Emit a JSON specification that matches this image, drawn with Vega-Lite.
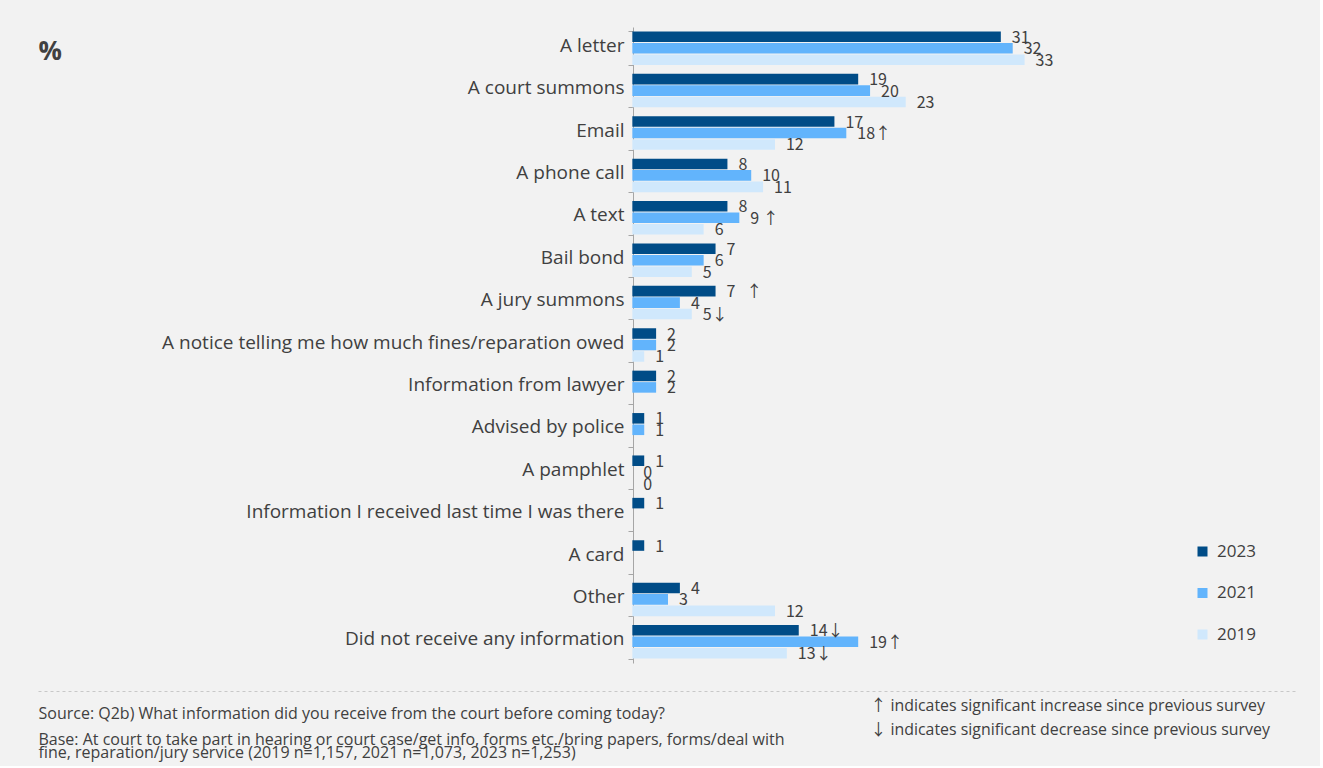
{
  "$schema": "https://vega.github.io/schema/vega-lite/v6.json",
  "width": 1260,
  "height": 636,
  "padding": {"left": 38, "top": 18, "right": 22, "bottom": 6},
  "background": "#f2f2f2",
  "config": {"view": {"stroke": null}, "font": "Open Sans"},
  "data": {
    "values": [
      {"category": "A letter", "year": "2023", "value": 31, "label": "31"},
      {"category": "A letter", "year": "2021", "value": 32, "label": "32"},
      {"category": "A letter", "year": "2019", "value": 33, "label": "33"},
      {"category": "A court summons", "year": "2023", "value": 19, "label": "19"},
      {"category": "A court summons", "year": "2021", "value": 20, "label": "20"},
      {"category": "A court summons", "year": "2019", "value": 23, "label": "23"},
      {"category": "Email", "year": "2023", "value": 17, "label": "17"},
      {"category": "Email", "year": "2021", "value": 18, "label": "18↑"},
      {"category": "Email", "year": "2019", "value": 12, "label": "12"},
      {"category": "A phone call", "year": "2023", "value": 8, "label": "8"},
      {"category": "A phone call", "year": "2021", "value": 10, "label": "10"},
      {"category": "A phone call", "year": "2019", "value": 11, "label": "11"},
      {"category": "A text", "year": "2023", "value": 8, "label": "8"},
      {"category": "A text", "year": "2021", "value": 9, "label": "9 ↑"},
      {"category": "A text", "year": "2019", "value": 6, "label": "6"},
      {"category": "Bail bond", "year": "2023", "value": 7, "label": "7"},
      {"category": "Bail bond", "year": "2021", "value": 6, "label": "6"},
      {"category": "Bail bond", "year": "2019", "value": 5, "label": "5"},
      {"category": "A jury summons", "year": "2023", "value": 7, "label": "7\u00a0\u00a0\u00a0↑"},
      {"category": "A jury summons", "year": "2021", "value": 4, "label": "4"},
      {"category": "A jury summons", "year": "2019", "value": 5, "label": "5↓"},
      {"category": "A notice telling me how much fines/reparation owed", "year": "2023", "value": 2, "label": "2"},
      {"category": "A notice telling me how much fines/reparation owed", "year": "2021", "value": 2, "label": "2"},
      {"category": "A notice telling me how much fines/reparation owed", "year": "2019", "value": 1, "label": "1"},
      {"category": "Information from lawyer", "year": "2023", "value": 2, "label": "2"},
      {"category": "Information from lawyer", "year": "2021", "value": 2, "label": "2"},
      {"category": "Advised by police", "year": "2023", "value": 1, "label": "1"},
      {"category": "Advised by police", "year": "2021", "value": 1, "label": "1"},
      {"category": "A pamphlet", "year": "2023", "value": 1, "label": "1"},
      {"category": "A pamphlet", "year": "2021", "value": 0, "label": "0"},
      {"category": "A pamphlet", "year": "2019", "value": 0, "label": "0"},
      {"category": "Information I received last time I was there", "year": "2023", "value": 1, "label": "1"},
      {"category": "A card", "year": "2023", "value": 1, "label": "1"},
      {"category": "Other", "year": "2023", "value": 4, "label": "4"},
      {"category": "Other", "year": "2021", "value": 3, "label": "3"},
      {"category": "Other", "year": "2019", "value": 12, "label": "12"},
      {"category": "Did not receive any information", "year": "2023", "value": 14, "label": "14↓"},
      {"category": "Did not receive any information", "year": "2021", "value": 19, "label": "19↑"},
      {"category": "Did not receive any information", "year": "2019", "value": 13, "label": "13↓"}
    ]
  },
  "layer": [
    {
      "mark": {"type": "bar"},
      "encoding": {
        "y": {
          "field": "category", "type": "nominal",
          "sort": ["A letter", "A court summons", "Email", "A phone call", "A text", "Bail bond", "A jury summons", "A notice telling me how much fines/reparation owed", "Information from lawyer", "Advised by police", "A pamphlet", "Information I received last time I was there", "A card", "Other", "Did not receive any information"],
          "scale": {"paddingInner": 0.21, "paddingOuter": 0.105},
          "axis": {
            "orient": "left", "offset": -595,
            "title": "%", "titleAngle": 0, "titleAlign": "left", "titleBaseline": "middle",
            "titleX": -595, "titleY": 24, "titleFontSize": 26, "titleFontWeight": "bold", "titleColor": "#404040",
            "labelFontSize": 19, "labelColor": "#404040", "labelPadding": 4, "labelLimit": 700, "labelOffset": -3,
            "tickSize": 5, "tickBand": "extent", "tickColor": "#a6a6a6", "domainColor": "#a6a6a6", "grid": false
          }
        },
        "yOffset": {"field": "year", "type": "nominal", "sort": ["2023", "2021", "2019"], "scale": {"paddingInner": 0.08, "paddingOuter": 0}},
        "x": {
          "field": "value", "type": "quantitative",
          "scale": {"domain": [-50, 56], "nice": false, "zero": false},
          "axis": {
            "orient": "bottom", "offset": 28, "labels": false, "ticks": false, "grid": false,
            "domain": true, "domainColor": "#c8c8c8", "domainDash": [3, 3], "domainWidth": 1,
            "title": ["Base: At court to take part in hearing or court case/get info, forms etc./bring papers, forms/deal with", "fine, reparation/jury service (2019 n=1,157, 2021 n=1,073, 2023 n=1,253)"],
            "titleX": 0, "titleY": 40, "titleAlign": "left", "titleBaseline": "top", "titleAngle": 0,
            "titleFontSize": 16, "titleFontWeight": "normal", "titleColor": "#404040", "titleLineHeight": 13
          }
        },
        "color": {
          "field": "year", "type": "nominal",
          "scale": {"domain": ["2023", "2021", "2019"], "range": ["#004C87", "#62B4FC", "#D0E8FC"]},
          "legend": {
            "title": null, "orient": "none", "legendX": 1156, "legendY": 516,
            "symbolType": "square", "symbolSize": 100, "symbolStrokeWidth": 0,
            "labelFontSize": 17, "labelColor": "#404040", "rowPadding": 23.5, "labelOffset": 6
          }
        }
      }
    },
    {
      "mark": {"type": "text", "align": "left", "baseline": "middle", "dx": 11, "dy": 1, "fontSize": 16, "font": "Noto Sans CJK SC", "color": "#404040"},
      "encoding": {
        "y": {
          "field": "category", "type": "nominal",
          "sort": ["A letter", "A court summons", "Email", "A phone call", "A text", "Bail bond", "A jury summons", "A notice telling me how much fines/reparation owed", "Information from lawyer", "Advised by police", "A pamphlet", "Information I received last time I was there", "A card", "Other", "Did not receive any information"],
          "axis": {
            "orient": "right", "labels": false, "ticks": false, "domain": false, "grid": false,
            "title": ["↑ indicates significant increase since previous survey", "↓ indicates significant decrease since previous survey"],
            "titleX": -428, "titleY": 670, "titleAlign": "left", "titleBaseline": "top", "titleAngle": 0,
            "titleFont": "Open Sans, Noto Sans CJK SC",
            "titleFontSize": 15.9, "titleFontWeight": "normal", "titleColor": "#404040", "titleLineHeight": 24
          }
        },
        "yOffset": {"field": "year", "type": "nominal", "sort": ["2023", "2021", "2019"]},
        "x": {
          "field": "value", "type": "quantitative",
          "axis": {
            "orient": "top", "labels": false, "ticks": false, "domain": false, "grid": false,
            "title": "Source: Q2b) What information did you receive from the court before coming today?",
            "titleX": 0, "titleY": 678, "titleAlign": "left", "titleBaseline": "top", "titleAngle": 0,
            "titleFontSize": 16, "titleFontWeight": "normal", "titleColor": "#404040"
          }
        },
        "text": {"field": "label"}
      }
    }
  ],
  "resolve": {"axis": {"y": "independent", "x": "independent"}}
}
